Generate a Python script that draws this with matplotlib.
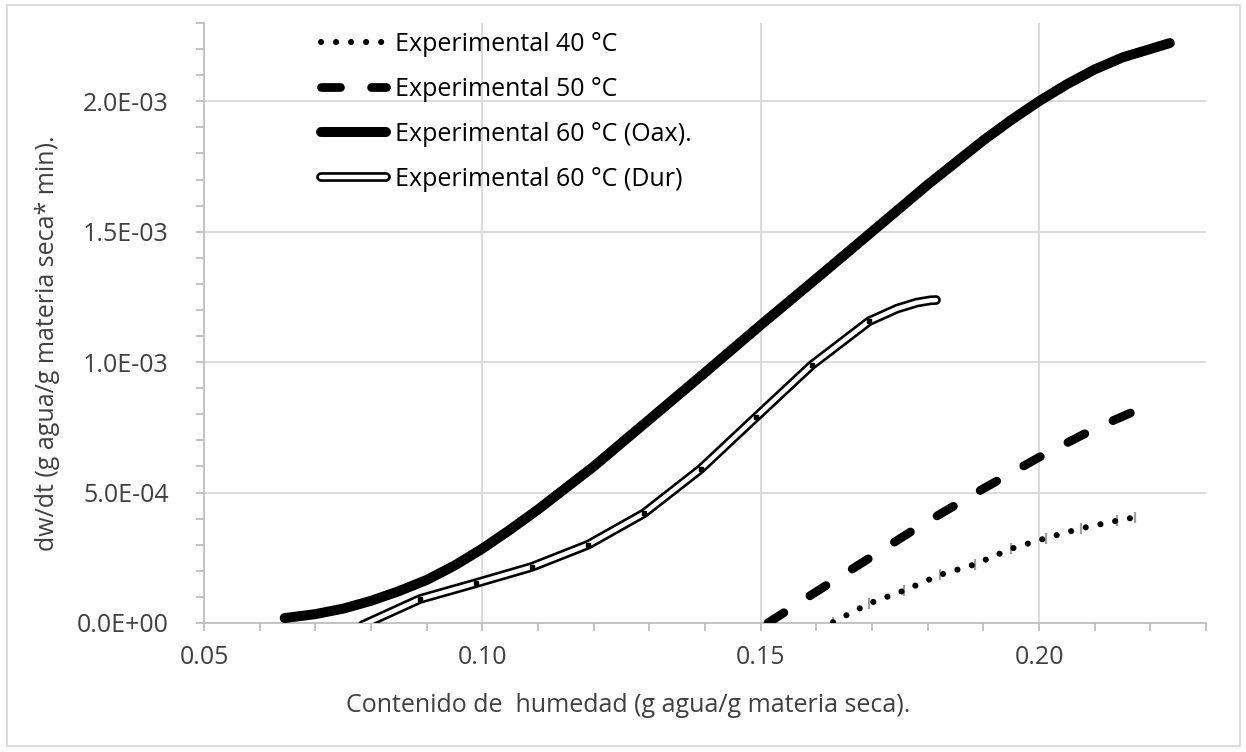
import numpy as np
import matplotlib
matplotlib.use('Agg')
import matplotlib.pyplot as plt
from matplotlib.lines import Line2D
from matplotlib.legend_handler import HandlerTuple
from matplotlib.patches import Rectangle
from matplotlib.ticker import MultipleLocator, FuncFormatter

plt.rcParams['font.family'] = ['Open Sans', 'DejaVu Sans']

# moisture content (g water / g dry matter) and drying rate dw/dt
x_40 = [0.1630, 0.1695, 0.1757, 0.1823, 0.1885, 0.1949, 0.2012, 0.2076, 0.2140, 0.2172]
y_40 = [0.003e-3, 0.075e-3, 0.124e-3, 0.185e-3, 0.225e-3, 0.284e-3, 0.325e-3, 0.363e-3, 0.392e-3, 0.405e-3]
err_40 = [0.021e-3] * len(x_40)

x_50 = [0.1513, 0.1600, 0.1700, 0.1783, 0.1900, 0.2000, 0.2100, 0.2175]
y_50 = [0.000e-3, 0.120e-3, 0.255e-3, 0.368e-3, 0.515e-3, 0.635e-3, 0.745e-3, 0.815e-3]

x_oax = [0.0645, 0.070, 0.075, 0.080, 0.085, 0.090, 0.095, 0.100, 0.105, 0.110, 0.120,
         0.130, 0.140, 0.150, 0.160, 0.170, 0.180, 0.190, 0.195, 0.200, 0.205, 0.210, 0.215, 0.2235]
y_oax = [0.019e-3, 0.034e-3, 0.055e-3, 0.085e-3, 0.122e-3, 0.165e-3, 0.220e-3, 0.285e-3, 0.358e-3, 0.435e-3,
         0.600e-3, 0.780e-3, 0.960e-3, 1.142e-3, 1.320e-3, 1.500e-3, 1.680e-3, 1.850e-3, 1.928e-3, 2.000e-3,
         2.065e-3, 2.122e-3, 2.168e-3, 2.223e-3]

x_dur = [0.0785, 0.0888, 0.0989, 0.1089, 0.1190, 0.1290, 0.1392, 0.1492, 0.1592, 0.1695,
         0.1745, 0.1780, 0.1805, 0.1815]
y_dur = [-0.008e-3, 0.092e-3, 0.153e-3, 0.215e-3, 0.300e-3, 0.420e-3, 0.590e-3, 0.790e-3, 0.989e-3, 1.157e-3,
         1.205e-3, 1.228e-3, 1.237e-3, 1.238e-3]

labels = ['Experimental 40 °C', 'Experimental 50 °C', 'Experimental 60 °C (Oax).', 'Experimental 60 °C (Dur)']

W, H = 1246, 752
fig = plt.figure(figsize=(W / 100, H / 100), dpi=100)
ax = fig.add_axes([204 / W, 1 - 623 / H, (1206 - 204) / W, (623 - 23) / H])

grid_c = '#d9d9d9'
axis_c = '#bfbfbf'
text_c = '#404040'
fs = 18

# series
ax.errorbar(x_40, y_40, yerr=err_40, fmt='none', ecolor='#a0a0a0', elinewidth=1.6, capsize=0, zorder=2)
dots = dict(color='k', lw=4.4, dashes=(0.01, 2.45), dash_capstyle='round', solid_capstyle='round')
dash = dict(color='k', lw=6.3, dashes=(2.17, 3.55), dash_capstyle='round', solid_capstyle='round')
solid = dict(color='k', lw=7.2, solid_capstyle='round', solid_joinstyle='round')
outer = dict(color='k', lw=7.0, solid_capstyle='round', solid_joinstyle='round')
inner = dict(color='white', lw=3.2, solid_capstyle='round', solid_joinstyle='round')

ax.plot(x_40, y_40, zorder=3, **dots)
ax.plot(x_50, y_50, zorder=3, **dash)
ax.plot(x_oax, y_oax, zorder=3, **solid)
ax.plot(x_dur, y_dur, zorder=3, **outer)
ax.plot(x_dur, y_dur, zorder=4, **inner)
ax.plot(x_dur[1:10], y_dur[1:10], ls='none', marker='s', ms=3.0, color='k', zorder=5)

# axes
ax.set_xlim(0.05, 0.23)
ax.set_ylim(0, 2.3e-3)
ax.xaxis.set_major_locator(MultipleLocator(0.05))
ax.xaxis.set_minor_locator(MultipleLocator(0.01))
ax.yaxis.set_major_locator(MultipleLocator(5e-4))
ax.yaxis.set_minor_locator(MultipleLocator(1e-4))
ax.xaxis.set_major_formatter(FuncFormatter(lambda v, p: f'{v:.2f}'))
ax.yaxis.set_major_formatter(FuncFormatter(lambda v, p: f'{v:.1E}'))

ax.grid(True, which='major', color=grid_c, lw=1.3, zorder=0)
ax.set_axisbelow(True)
for s in ['top', 'right']:
    ax.spines[s].set_visible(False)
for s in ['left', 'bottom']:
    ax.spines[s].set_color(axis_c)
    ax.spines[s].set_linewidth(1.3)
ax.tick_params(which='both', direction='out', color=axis_c, width=1.3, length=5.5,
               labelsize=fs, labelcolor=text_c)
ax.tick_params(axis='y', pad=20)
ax.tick_params(axis='x', pad=10)

fig.text(628 / W, 1 - 706 / H, 'Contenido de  humedad (g agua/g materia seca).',
         fontsize=fs, color=text_c, ha='center', va='center')
fig.text(48 / W, 1 - 343 / H, 'dw/dt (g agua/g materia seca* min).',
         fontsize=fs, color=text_c, ha='center', va='center', rotation=90)

# legend
h40 = Line2D([], [], **dots)
h50 = Line2D([], [], **dash)
hoax = Line2D([], [], **solid)
hdur = (Line2D([], [], **outer), Line2D([], [], **inner))
ax.legend([h40, h50, hoax, hdur], labels, handler_map={tuple: HandlerTuple(ndivide=1, pad=0)},
          loc='upper left', bbox_to_anchor=(321 / W, 1 - 32 / H), bbox_transform=fig.transFigure,
          frameon=False, fontsize=fs, handlelength=2.6, handletextpad=0.35, labelspacing=0.8,
          borderpad=0, borderaxespad=0, labelcolor='k')

# chart border
fig.patches.append(Rectangle((7 / W, 1 - 746 / H), 1233 / W, 741 / H, transform=fig.transFigure,
                             fill=False, edgecolor=grid_c, lw=1.3))

fig.savefig('out.png', dpi=100)
